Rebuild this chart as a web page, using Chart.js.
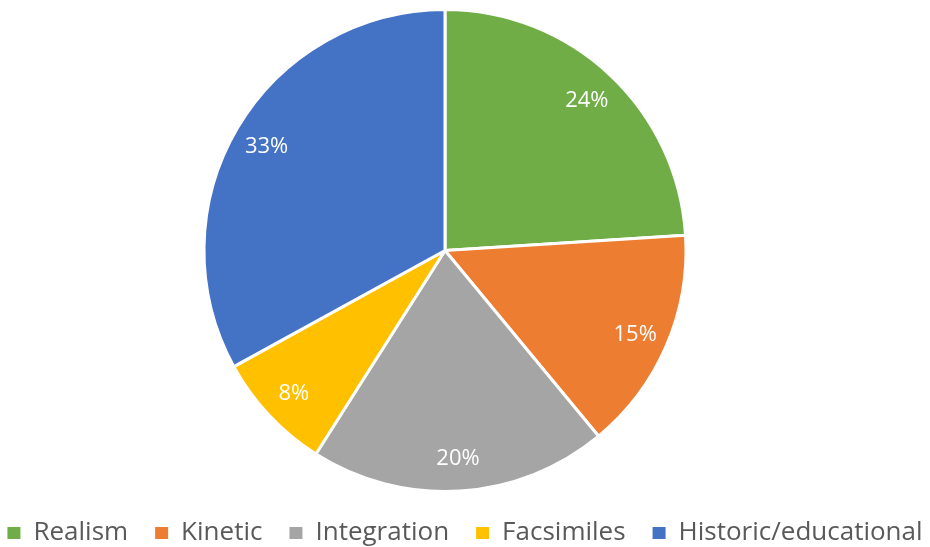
<!DOCTYPE html>
<html>
<head>
<meta charset="utf-8">
<script src="https://cdn.jsdelivr.net/npm/chart.js@4"></script>
<style>
html,body{margin:0;padding:0;background:#fff;}
#wrap{width:930px;height:547px;position:relative;}
</style>
</head>
<body>
<div id="wrap"><canvas id="c"></canvas></div>
<script>
const categories = ["Realism", "Kinetic", "Integration", "Facsimiles", "Historic/educational"];
const shares = [24, 15, 20, 8, 33];
const sliceColors = ["#70AD47", "#ED7D31", "#A5A5A5", "#FFC000", "#4472C4"];

const labelPlugin = {
  id: 'sliceLabels',
  afterDatasetsDraw(chart) {
    const ctx = chart.ctx;
    const meta = chart.getDatasetMeta(0);
    const fontSize = 22;
    ctx.save();
    ctx.fillStyle = '#ffffff';
    ctx.font = fontSize + 'px "Open Sans", sans-serif';
    ctx.textAlign = 'center';
    ctx.textBaseline = 'alphabetic';
    meta.data.forEach((arc, i) => {
      const p = arc.getProps(['x','y','startAngle','endAngle','outerRadius'], true);
      const mid = (p.startAngle + p.endAngle) / 2;
      const r = p.outerRadius * 0.86;
      const cx = p.x + Math.cos(mid) * r;
      const cy = p.y + Math.sin(mid) * r;
      ctx.fillText(shares[i] + '%', cx, cy + fontSize * 0.36);
    });
    ctx.restore();
  }
};

// shift the pie slightly left of the canvas centre, like the original
const shiftPlugin = {
  id: 'shiftArea',
  afterLayout(chart) {
    chart.chartArea.left -= 20;
    chart.chartArea.right -= 20;
  }
};

const defaultLabels = Chart.controllers.pie.overrides.plugins.legend.labels.generateLabels;

new Chart(document.getElementById('c'), {
  type: 'pie',
  data: {
    labels: categories,
    datasets: [{
      data: shares,
      backgroundColor: sliceColors,
      borderColor: '#ffffff',
      borderWidth: 3
    }]
  },
  options: {
    responsive: true,
    maintainAspectRatio: false,
    animation: false,
    layout: { padding: { top: 8, bottom: -9, left: -30, right: -30 } },
    plugins: {
      legend: {
        position: 'bottom',
        labels: {
          boxWidth: 13,
          boxHeight: 12,
          padding: 27,
          color: '#595959',
          font: { size: 26, family: '"Open Sans", sans-serif' },
          generateLabels(chart) {
            return defaultLabels(chart).map(item => Object.assign(item, { lineWidth: 0 }));
          }
        }
      },
      tooltip: { enabled: false }
    }
  },
  plugins: [labelPlugin, shiftPlugin]
});
</script>
</body>
</html>
